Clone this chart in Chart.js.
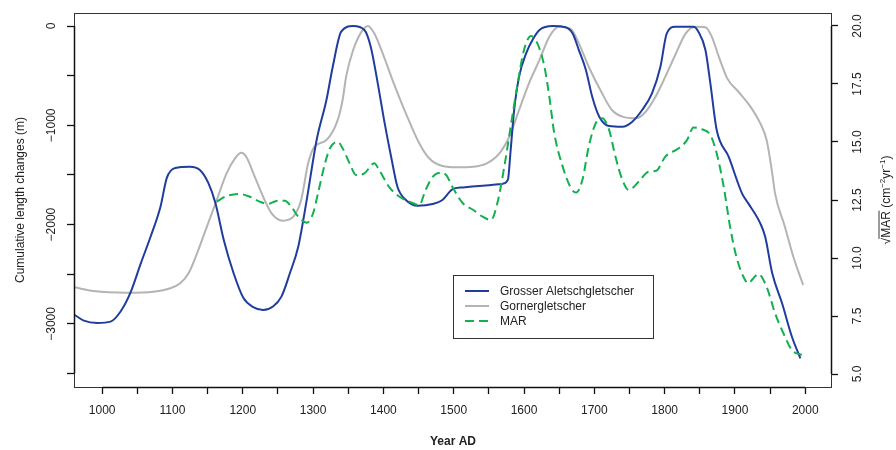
<!DOCTYPE html>
<html><head><meta charset="utf-8">
<script src="https://cdn.jsdelivr.net/npm/chart.js@4/dist/chart.umd.min.js"></script>
<style>html,body{margin:0;padding:0;background:#fff}canvas{display:block}</style>
</head><body>
<canvas id="c" width="896" height="450"></canvas>
<script>
// ---- data ----
const aletschYear = [961,974,993,1012,1026,1040,1055,1069,1083,1092,1104,1125,1139,1151,1161,1173,1187,1201,1215,1229,1243,1255,1267,1279,1291,1305,1319,1328,1340,1357,1373,1382,1392,1401,1411,1420,1432,1449,1470,1484,1498,1513,1541,1569,1577,1581,1586,1593,1603,1612,1622,1641,1659,1669,1678,1688,1697,1707,1721,1740,1754,1768,1782,1794,1803,1815,1841,1848,1858,1865,1874,1891,1910,1919,1936,1943,1953,1967,1981,1993];
const aletschLen  = [-2910,-2967,-2990,-2977,-2877,-2690,-2390,-2120,-1820,-1530,-1430,-1417,-1450,-1580,-1780,-2155,-2490,-2740,-2830,-2860,-2825,-2725,-2490,-2220,-1750,-1150,-745,-410,-57,0,-40,-208,-577,-947,-1316,-1618,-1752,-1810,-1792,-1752,-1645,-1625,-1608,-1590,-1550,-1250,-845,-510,-275,-141,-40,0,-13,-74,-242,-443,-712,-913,-1007,-1014,-963,-846,-678,-410,-74,-7,-7,-57,-242,-577,-1047,-1316,-1685,-1786,-1987,-2122,-2490,-2792,-3129,-3346];

const gornerYear = [961,988,1036,1073,1097,1111,1123,1135,1149,1163,1177,1189,1198,1205,1217,1229,1241,1257,1272,1283,1293,1302,1319,1335,1342,1347,1357,1369,1378,1387,1399,1413,1432,1451,1465,1484,1505,1528,1547,1565,1579,1593,1607,1622,1636,1650,1667,1678,1692,1711,1725,1740,1759,1773,1787,1801,1815,1830,1844,1858,1867,1877,1889,1905,1922,1936,1945,1953,1957,1971,1983,1997];
const gornerLen  = [-2631,-2669,-2685,-2675,-2641,-2591,-2490,-2289,-2021,-1752,-1483,-1332,-1276,-1316,-1517,-1719,-1886,-1960,-1920,-1752,-1383,-1215,-1148,-947,-745,-510,-242,-57,0,-74,-275,-544,-880,-1181,-1332,-1410,-1423,-1417,-1383,-1282,-1115,-846,-577,-342,-107,-7,-33,-175,-410,-678,-846,-913,-930,-863,-712,-510,-292,-74,-7,-13,-107,-309,-527,-662,-812,-980,-1148,-1483,-1685,-2021,-2323,-2608];

const marYear = [1163,1177,1196,1210,1224,1236,1248,1260,1269,1279,1291,1300,1307,1317,1324,1335,1342,1352,1361,1373,1387,1394,1408,1423,1437,1451,1460,1470,1482,1490,1498,1513,1528,1541,1553,1562,1572,1581,1591,1600,1610,1619,1629,1636,1643,1655,1667,1674,1683,1692,1702,1711,1721,1730,1740,1749,1763,1777,1788,1801,1820,1832,1841,1853,1865,1874,1884,1893,1902,1912,1919,1926,1933,1945,1957,1969,1981,1995];
const marValue = [12.43,12.67,12.76,12.64,12.43,12.33,12.46,12.47,12.21,11.78,11.52,11.93,12.79,14.08,14.73,15.01,14.73,14.08,13.58,13.65,14.08,13.79,13.07,12.64,12.43,12.28,12.93,13.50,13.68,13.55,13.07,12.36,12.07,11.78,11.64,12.36,13.94,15.66,17.53,18.97,19.57,19.25,18.25,16.95,15.38,13.94,13.00,12.82,13.36,14.80,15.81,16.02,15.52,14.37,13.36,12.93,13.29,13.72,13.76,14.37,14.73,15.09,15.63,15.55,15.30,14.51,13.07,11.35,10.06,9.19,8.91,9.12,9.31,8.76,7.62,6.75,6.03,5.82];

const yearTicks = [1000,1050,1100,1150,1200,1250,1300,1350,1400,1450,1500,1550,1600,1650,1700,1750,1800,1850,1900,1950,2000];
const lengthTicks = [-3500,-3000,-2500,-2000,-1500,-1000,-500,0];
const marTicks = [5,7.5,10,12.5,15,17.5,20];
const seriesNames = ['Grosser Aletschgletscher','Gornergletscher','MAR'];
const xTitle = 'Year AD';
const leftTitle = 'Cumulative length changes (m)';

// ---- styles ----
const FONT = "'Liberation Sans', Arial, Helvetica, sans-serif";
const INK = '#222222';
const BLUE = '#1f3d9c', GRAY = '#b4b4b4', GREEN = '#12b04f';

Chart.defaults.font.family = FONT;
Chart.defaults.color = INK;

function pts(xs, ys){ return xs.map((x,i)=>({x:x, y:ys[i]})); }

const framePlugin = {
  id:'frame',
  afterDatasetsDraw(chart){
    const {ctx, chartArea:a, scales} = chart;
    ctx.save();
    ctx.strokeStyle = '#333'; ctx.lineWidth = 1;
    ctx.strokeRect(Math.round(a.left)+0.5, Math.round(a.top)+0.5, Math.round(a.right-a.left)-1, Math.round(a.bottom-a.top));
    ctx.strokeStyle = '#111'; ctx.lineWidth = 1.5;
    const L = Math.round(a.left)+0.5, R = Math.round(a.right)-0.5, B = Math.round(a.bottom)+0.5;
    ctx.beginPath();
    ctx.moveTo(L, scales.y.getPixelForValue(lengthTicks[lengthTicks.length-1]));
    ctx.lineTo(L, scales.y.getPixelForValue(lengthTicks[0]));
    ctx.moveTo(scales.x.getPixelForValue(yearTicks[0]), B);
    ctx.lineTo(scales.x.getPixelForValue(yearTicks[yearTicks.length-1]), B);
    ctx.moveTo(R, scales.y1.getPixelForValue(marTicks[0]));
    ctx.lineTo(R, scales.y1.getPixelForValue(marTicks[marTicks.length-1]));
    ctx.stroke();

    // right axis title: sqrt(MAR) (cm^-2 yr^-1), reading bottom to top
    const cy = (scales.y1.top + scales.y1.bottom)/2;
    ctx.translate(885, cy);
    ctx.rotate(-Math.PI/2);
    ctx.fillStyle = INK;
    ctx.textBaseline = 'alphabetic';
    ctx.textAlign = 'left';
    const big = '12px ' + FONT, small = '8px ' + FONT;
    const parts = [['√',big,0],['MAR',big,0],[' (cm',big,0],['−2',small,-5],['yr',big,0],['−1',small,-5],[')',big,0]];
    let total = 0;
    parts.forEach(p=>{ ctx.font = p[1]; p.push(ctx.measureText(p[0]).width); total += p[3]; });
    let x = -total/2; const base = 4.5;
    let marStart=0, marEnd=0;
    parts.forEach((p,i)=>{
      ctx.font = p[1];
      if(i===1) marStart = x;
      ctx.fillText(p[0], x, base + p[2]);
      x += p[3];
      if(i===1) marEnd = x;
    });
    ctx.lineWidth = 0.9; ctx.strokeStyle = INK;
    ctx.beginPath();
    ctx.moveTo(marStart-1, base-10.5); ctx.lineTo(marEnd+0.5, base-10.5);
    ctx.stroke();
    ctx.restore();

    // legend box
    ctx.save();
    const bx=453, by=275, bw=200, bh=63;
    ctx.fillStyle='#fff'; ctx.fillRect(bx,by,bw,bh);
    ctx.strokeStyle='#333'; ctx.lineWidth=1;
    ctx.strokeRect(bx+0.5,by+0.5,bw,bh);
    const ds = chart.data.datasets;
    const rows = [291, 306, 321];
    seriesNames.forEach((name,i)=>{
      const d = ds.find(s=>s.label===name);
      ctx.strokeStyle = d.borderColor; ctx.lineWidth = d.borderWidth;
      ctx.setLineDash(d.borderDash || []);
      ctx.beginPath(); ctx.moveTo(465, rows[i]); ctx.lineTo(489, rows[i]); ctx.stroke();
      ctx.setLineDash([]);
      ctx.fillStyle = INK; ctx.font = '12px ' + FONT;
      ctx.textBaseline='middle'; ctx.textAlign='left';
      ctx.fillText(name, 500, rows[i]+0.5);
    });
    ctx.restore();
  }
};

function tickGrid(len){ return {drawOnChartArea:false, drawTicks:true, tickLength:len, tickColor:'#111', tickWidth:1.3}; }

new Chart(document.getElementById('c'), {
  type:'line',
  data:{ datasets:[
    {label:seriesNames[1], data:pts(gornerYear,gornerLen), borderColor:GRAY, borderWidth:2, pointRadius:0, yAxisID:'y', cubicInterpolationMode:'monotone', order:3},
    {label:seriesNames[0], data:pts(aletschYear,aletschLen), borderColor:BLUE, borderWidth:2, pointRadius:0, yAxisID:'y', cubicInterpolationMode:'monotone', order:2},
    {label:seriesNames[2], data:pts(marYear,marValue), borderColor:GREEN, borderWidth:2, borderDash:[9,5], pointRadius:0, yAxisID:'y1', cubicInterpolationMode:'monotone', order:1}
  ]},
  options:{
    responsive:false, animation:false, devicePixelRatio:1,
    layout:{padding:{top:13,left:0,right:0,bottom:0}},
    plugins:{legend:{display:false}, tooltip:{enabled:false}},
    scales:{
      x:{ type:'linear', position:'bottom', min:960, max:2038,
        border:{display:false}, grid:tickGrid(7),
        afterBuildTicks:s=>{ s.ticks = yearTicks.map(v=>({value:v})); },
        ticks:{autoSkip:false, maxRotation:0, padding:9, color:INK, font:{size:12},
          callback:v=> v%100===0 ? String(v) : ''},
        title:{display:true, text:xTitle, color:INK, font:{size:12, weight:'bold'}, padding:{top:0,bottom:1}},
        afterFit:s=>{ s.height = 63; s.paddingLeft = 0; s.paddingRight = 0; }
      },
      y:{ type:'linear', position:'left', min:-3635, max:131,
        border:{display:false}, grid:tickGrid(7),
        afterBuildTicks:s=>{ s.ticks = lengthTicks.map(v=>({value:v})); },
        ticks:{autoSkip:false, minRotation:90, maxRotation:90, crossAlign:'center', padding:-2, color:INK, font:{size:12},
          callback:v=> v%1000===0 ? (v<0 ? '\u2212'+Math.abs(v) : String(v)) : ''},
        title:{display:true, text:leftTitle, color:INK, font:{size:12}, padding:{top:13,bottom:0}},
        afterFit:s=>{ s.width = 74; s.paddingTop = 0; s.paddingBottom = 0; }
      },
      y1:{ type:'linear', position:'right', min:4.44, max:20.56,
        border:{display:false}, grid:tickGrid(6),
        afterBuildTicks:s=>{ s.ticks = marTicks.map(v=>({value:v})); },
        ticks:{autoSkip:false, minRotation:90, maxRotation:90, crossAlign:'center', padding:8, color:INK, font:{size:12},
          callback:v=> v.toFixed(1)},
        afterFit:s=>{ s.width = 64; s.paddingTop = 0; s.paddingBottom = 0; }
      }
    }
  },
  plugins:[framePlugin]
});
</script>
</body></html>
